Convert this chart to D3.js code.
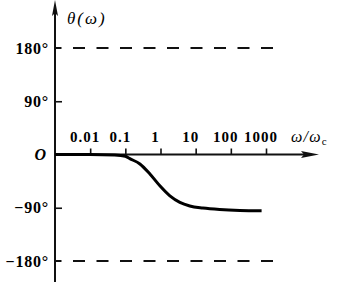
<!DOCTYPE html>
<html>
<head>
<meta charset="utf-8">
<script src="https://cdn.jsdelivr.net/npm/d3@7"></script>
<style>
  html, body { margin: 0; padding: 0; background: #fff; }
  svg { display: block; }
</style>
</head>
<body>
<svg id="chart" width="339" height="285"></svg>
<script>
// ---- data ----
const omega = [0.001, 0.01, 0.05, 0.1, 0.134, 0.26, 0.5, 0.96, 1.85, 3.55, 6.8, 16, 48, 180, 750];
const theta = [0, 0, -1, -3, -7, -16, -33, -53, -70, -81, -87, -90.5, -93, -94.5, -95];
const xTicks = [0.01, 0.1, 1, 10, 100, 1000];
const xTickLabels = ["0.01", "0.1", "1", "10", "100", "1000"];
const yTicks = [90, -90];
const yLabelValues = [180, 90, -90, -180];
const yLabels = ["180°", "90°", "−90°", "−180°"];
const refLines = [180, -180];

// ---- scales ----
const x = d3.scaleLog().domain([0.001, 1000]).range([55, 266]);
const y = d3.scaleLinear().domain([-180, 180]).range([261, 48]);

const svg = d3.select("#chart");
svg.append("rect").attr("width", 339).attr("height", 285).attr("fill", "#fff");

const serif = "'Liberation Serif', 'Times New Roman', serif";
const x0 = x(0.001), y0 = y(0);

// reference dashed lines
svg.selectAll(".ref").data(refLines).enter().append("line")
  .attr("x1", x0).attr("x2", 273)
  .attr("y1", d => y(d)).attr("y2", d => y(d))
  .attr("stroke", "#111").attr("stroke-width", 2)
  .attr("stroke-dasharray", "12,11.5").attr("stroke-dashoffset", 5.5);

// x axis ticks
const gx = svg.append("g").attr("transform", `translate(0,${y0})`)
  .call(d3.axisTop(x).tickValues(xTicks).tickSize(6).tickFormat(""));
gx.select(".domain").remove();
gx.selectAll("line").attr("stroke", "#111").attr("stroke-width", 1.6);

// x tick labels
svg.selectAll(".xl").data(xTicks).enter().append("text")
  .attr("x", d => x(d) - 5).attr("y", y0 - 13)
  .attr("text-anchor", "middle")
  .attr("font-family", serif).attr("font-weight", "bold").attr("font-size", 15)
  .attr("letter-spacing", 1)
  .text((d, i) => xTickLabels[i]);

// y axis ticks
const gy = svg.append("g").attr("transform", `translate(${x0},0)`)
  .call(d3.axisRight(y).tickValues(yTicks).tickSize(7).tickFormat(""));
gy.select(".domain").remove();
gy.selectAll("line").attr("stroke", "#111").attr("stroke-width", 1.6);

// y labels
svg.selectAll(".yl").data(yLabelValues).enter().append("text")
  .attr("x", 49).attr("y", d => y(d)).attr("dy", "0.35em")
  .attr("text-anchor", "end")
  .attr("font-family", serif).attr("font-weight", "bold").attr("font-size", 16)
  .attr("letter-spacing", 0.8)
  .text((d, i) => yLabels[i]);

// origin label
svg.append("text").attr("x", 46).attr("y", y0).attr("dy", "0.35em")
  .attr("text-anchor", "end")
  .attr("font-family", serif).attr("font-style", "italic").attr("font-weight", "bold")
  .attr("font-size", 16).text("O");

// axes lines with arrows
svg.append("line").attr("x1", x0).attr("x2", 306).attr("y1", y0).attr("y2", y0)
  .attr("stroke", "#111").attr("stroke-width", 2);
svg.append("path").attr("d", `M319,${y0} L301,${y0 - 3.5} L304,${y0} L301,${y0 + 3.5} Z`).attr("fill", "#111");
svg.append("line").attr("x1", x0).attr("x2", x0).attr("y1", 282).attr("y2", 12)
  .attr("stroke", "#111").attr("stroke-width", 2);
svg.append("path").attr("d", `M${x0},0 L${x0 - 3},16 L${x0},13 L${x0 + 3},16 Z`).attr("fill", "#111");

// axis titles
svg.append("text").attr("x", 67).attr("y", 24)
  .attr("font-family", serif).attr("font-style", "italic").attr("font-size", 17)
  .attr("letter-spacing", 2).text("θ(ω)");
const t = svg.append("text").attr("x", 291).attr("y", y0 - 13)
  .attr("font-family", serif).attr("font-style", "italic").attr("font-size", 16)
  .attr("letter-spacing", 1.2);
t.append("tspan").text("ω/ω");
t.append("tspan").attr("font-size", 11).attr("font-style", "normal").attr("dy", 3).text("c");

// curve
const pts = omega.map((w, i) => [w, theta[i]]);
svg.append("path").datum(pts)
  .attr("d", d3.line().x(d => x(d[0])).y(d => y(d[1])).curve(d3.curveMonotoneX))
  .attr("fill", "none").attr("stroke", "#000").attr("stroke-width", 3)
  .attr("stroke-linecap", "butt");
</script>
</body>
</html>
